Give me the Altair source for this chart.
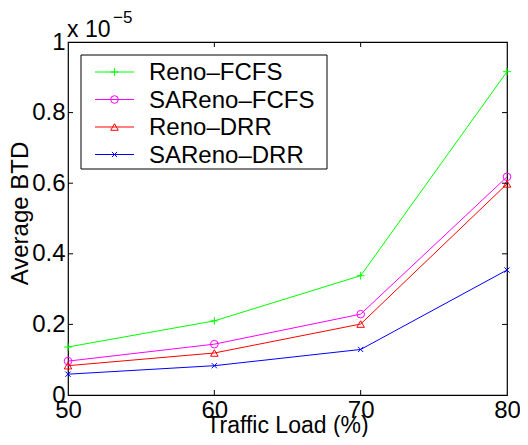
import altair as alt
import pandas as pd

# ---- data (values in units of 1e-5) ----
loads = [50, 60, 70, 80]
series_names = ["Reno–FCFS", "SAReno–FCFS", "Reno–DRR", "SAReno–DRR"]
reno_fcfs = [0.136, 0.210, 0.338, 0.916]
sareno_fcfs = [0.096, 0.144, 0.229, 0.618]
reno_drr = [0.083, 0.119, 0.201, 0.598]
sareno_drr = [0.059, 0.083, 0.129, 0.354]
x_ticks = [50, 60, 70, 80]
y_ticks = [0, 0.2, 0.4, 0.6, 0.8, 1.0]

colors = ["#00ff00", "#ff00ff", "#ff0000", "#0000ff"]
shapes = ["M-1,0L1,0M0,-1L0,1", "circle", "triangle-up",
          "M-0.7,-0.7L0.7,0.7M-0.7,0.7L0.7,-0.7"]
sizes = [60, 55, 70, 60]

W, H = 439, 353
XMIN, XMAX, YMIN, YMAX = 50, 80, 0, 1
FONT = "Liberation Sans"

rows = []
for name, vals in zip(series_names, [reno_fcfs, sareno_fcfs, reno_drr, sareno_drr]):
    for l, v in zip(loads, vals):
        rows.append({"load": l, "value": v, "series": name})
df = pd.DataFrame(rows)

xs = alt.Scale(domain=[XMIN, XMAX], nice=False, zero=False)
ys = alt.Scale(domain=[YMIN, YMAX], nice=False, zero=False)
cscale = alt.Scale(domain=series_names, range=colors)
sscale = alt.Scale(domain=series_names, range=shapes)
zscale = alt.Scale(domain=series_names, range=sizes)

xaxis = alt.Axis(values=x_ticks, title=None, grid=False, ticks=False,
                 domain=False, labelFontSize=24, labelFont=FONT, labelColor="black",
                 labelPadding=3, labelFlush=False, labelOverlap=False)
yaxis = alt.Axis(values=y_ticks, format="~g", title="Average BTD", grid=False,
                 ticks=False, domain=False, labelFontSize=24, labelFont=FONT,
                 labelColor="black", labelPadding=3, labelFlush=False, labelOverlap=False,
                 titleFontSize=24, titleFont=FONT, titleFontWeight="normal",
                 titleColor="black", titleX=-41, titleY=171, titleAngle=270,
                 titleBaseline="alphabetic", titleAlign="center")

base = alt.Chart(df)
lines = base.mark_line(strokeWidth=1).encode(
    x=alt.X("load:Q", scale=xs, axis=xaxis),
    y=alt.Y("value:Q", scale=ys, axis=yaxis),
    color=alt.Color("series:N", scale=cscale, legend=None),
    detail="series:N",
)
points = base.mark_point(filled=False, strokeWidth=1, opacity=1).encode(
    x=alt.X("load:Q", scale=xs),
    y=alt.Y("value:Q", scale=ys),
    color=alt.Color("series:N", scale=cscale, legend=None),
    shape=alt.Shape("series:N", scale=sscale, legend=None),
    size=alt.Size("series:N", scale=zscale, legend=None),
)

# inner tick marks on all four sides
xt = pd.DataFrame({"t": x_ticks[1:-1]})
yt = pd.DataFrame({"t": y_ticks[1:-1]})
tick_bottom = alt.Chart(xt).mark_rule(color="black", strokeWidth=1).encode(
    x=alt.X("t:Q", scale=xs), y=alt.value(H), y2=alt.value(H - 5))
tick_top = alt.Chart(xt).mark_rule(color="black", strokeWidth=1).encode(
    x=alt.X("t:Q", scale=xs), y=alt.value(0), y2=alt.value(5))
tick_left = alt.Chart(yt).mark_rule(color="black", strokeWidth=1).encode(
    y=alt.Y("t:Q", scale=ys), x=alt.value(0), x2=alt.value(5))
tick_right = alt.Chart(yt).mark_rule(color="black", strokeWidth=1).encode(
    y=alt.Y("t:Q", scale=ys), x=alt.value(W), x2=alt.value(W - 5))

# manual legend (pixel positions relative to plot area converted to data units)
def px2x(p):
    return XMIN + p / W * (XMAX - XMIN)

def py2y(p):
    return YMAX - p / H * (YMAX - YMIN)

box = pd.DataFrame({"x1": [px2x(13)], "x2": [px2x(259)], "y1": [py2y(13)], "y2": [py2y(127)]})
legend_box = alt.Chart(box).mark_rect(fill="white", stroke="black", strokeWidth=1).encode(
    x=alt.X("x1:Q", scale=xs), x2="x2:Q", y=alt.Y("y1:Q", scale=ys), y2="y2:Q")

leg = pd.DataFrame({
    "series": series_names,
    "lx1": [px2x(27)] * 4,
    "lx2": [px2x(66)] * 4,
    "mx": [px2x(46.5)] * 4,
    "tx": [px2x(81)] * 4,
    "ly": [py2y(30 + i * 27.5) for i in range(4)],
})
leg_lines = alt.Chart(leg).mark_rule(strokeWidth=1).encode(
    x=alt.X("lx1:Q", scale=xs), x2="lx2:Q", y=alt.Y("ly:Q", scale=ys),
    color=alt.Color("series:N", scale=cscale, legend=None))
leg_pts = alt.Chart(leg).mark_point(filled=False, strokeWidth=1, opacity=1).encode(
    x=alt.X("mx:Q", scale=xs), y=alt.Y("ly:Q", scale=ys),
    color=alt.Color("series:N", scale=cscale, legend=None),
    shape=alt.Shape("series:N", scale=sscale, legend=None),
    size=alt.Size("series:N", scale=zscale, legend=None))
leg_text = alt.Chart(leg).mark_text(align="left", baseline="middle", fontSize=24,
                                    font=FONT, color="black", dy=1).encode(
    x=alt.X("tx:Q", scale=xs), y=alt.Y("ly:Q", scale=ys), text="series:N")

one = pd.DataFrame({"a": [0]})
exp_main = alt.Chart(one).mark_text(text="x 10", align="left", baseline="alphabetic",
                                    fontSize=23, font=FONT, color="black").encode(
    x=alt.value(-1), y=alt.value(-5))
exp_sup = alt.Chart(one).mark_text(text="−5", align="left", baseline="alphabetic",
                                   fontSize=17, font=FONT, color="black").encode(
    x=alt.value(45), y=alt.value(-19))
x_title = alt.Chart(one).mark_text(text="Traffic Load (%)", align="center",
                                   baseline="alphabetic", fontSize=23, font=FONT,
                                   color="black").encode(
    x=alt.value(W / 2), y=alt.value(H + 38))

chart = alt.layer(
    lines, points, tick_bottom, tick_top, tick_left, tick_right,
    legend_box, leg_lines, leg_pts, leg_text, exp_main, exp_sup, x_title,
).properties(
    width=W, height=H,
    autosize=alt.AutoSizeParams(type="none"),
    padding={"left": 60, "top": 34, "right": 13, "bottom": 42},
    background="white",
).configure_view(stroke="black", strokeWidth=1.2)

chart.save("out.html", embed_options={"renderer": "svg", "actions": False})
